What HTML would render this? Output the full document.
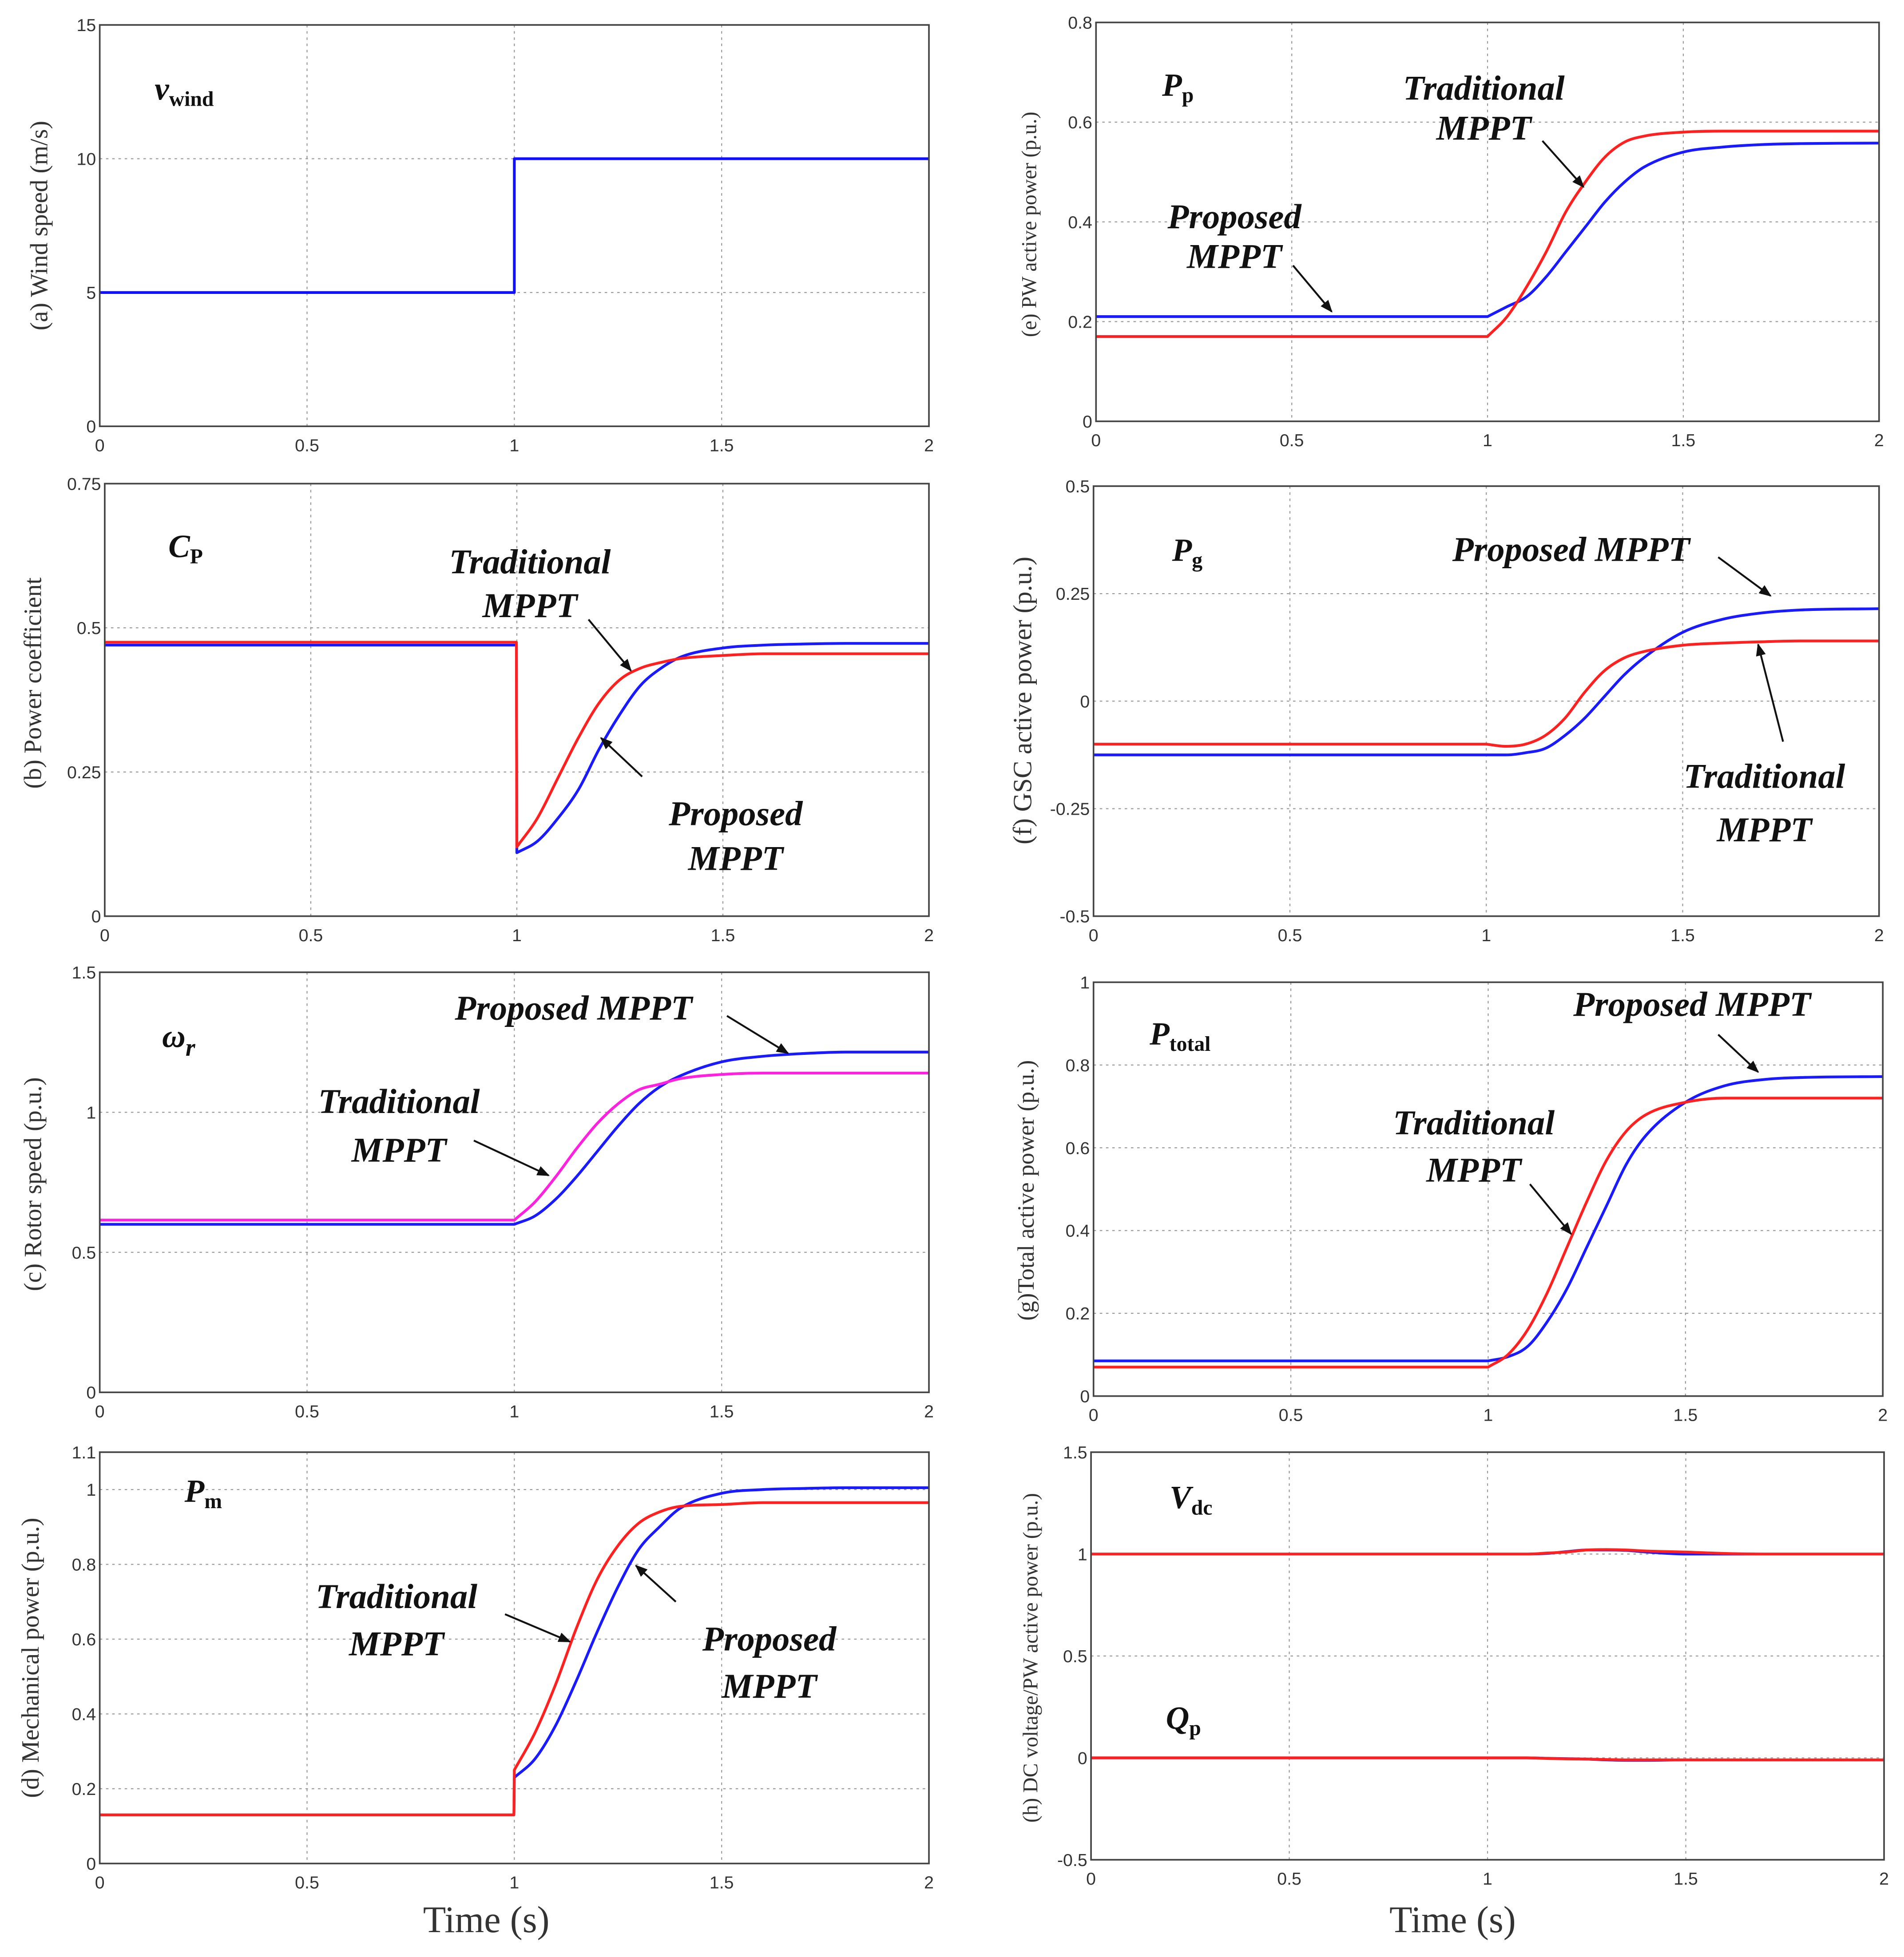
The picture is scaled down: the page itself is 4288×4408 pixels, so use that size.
<!DOCTYPE html>
<html><head><meta charset="utf-8">
<style>
html,body{margin:0;padding:0;background:#fff;}
svg{display:block;}
.tick{font-family:"Liberation Sans",sans-serif;font-size:14px;fill:#333;}
.ylab{font-family:"Liberation Serif",serif;fill:#333;}
.ann{font-family:"Liberation Serif",serif;font-weight:bold;font-style:italic;font-size:28px;fill:#111;}
.sym{font-family:"Liberation Serif",serif;font-weight:bold;font-style:italic;font-size:26px;fill:#111;}
.sub{font-family:"Liberation Serif",serif;font-weight:bold;font-style:normal;font-size:17px;}
</style></head>
<body>
<svg id="fig" width="4288" height="4408" viewBox="0 0 1527 1570" preserveAspectRatio="none" xmlns="http://www.w3.org/2000/svg">
<defs>
<marker id="ah" markerWidth="10" markerHeight="8" refX="9" refY="4" orient="auto" markerUnits="userSpaceOnUse"><path d="M0,0 L10,4 L0,8 z" fill="#111"/></marker>
</defs>
<g id="grids"></g>
<g id="series"></g>
<g id="frames"></g>
<g id="labels">
<text class="ylab" font-size="20" transform="translate(38,181) rotate(-90)" text-anchor="middle">(a) Wind speed (m/s)</text>
<text class="ylab" font-size="20" transform="translate(33,548) rotate(-90)" text-anchor="middle">(b) Power coefficient</text>
<text class="ylab" font-size="20" transform="translate(33,950) rotate(-90)" text-anchor="middle">(c) Rotor speed (p.u.)</text>
<text class="ylab" font-size="20" transform="translate(31,1330) rotate(-90)" text-anchor="middle">(d)  Mechanical power (p.u.)</text>
<text class="ylab" font-size="17" transform="translate(831,180) rotate(-90)" text-anchor="middle">(e) PW active power (p.u.)</text>
<text class="ylab" font-size="21" transform="translate(827,562) rotate(-90)" text-anchor="middle">(f) GSC active power (p.u.)</text>
<text class="ylab" font-size="19" transform="translate(829,955) rotate(-90)" text-anchor="middle">(g)Total active power (p.u.)</text>
<text class="ylab" font-size="17" transform="translate(832,1330) rotate(-90)" text-anchor="middle">(h) DC voltage/PW active power (p.u.)</text>

<text class="sym" x="124" y="80">v<tspan class="sub" dy="5">wind</tspan></text>
<text class="sym" x="135" y="447">C<tspan class="sub" dy="5">P</tspan></text>
<text class="sym" x="130" y="840">ω<tspan dy="7" font-size="20">r</tspan></text>
<text class="sym" x="148" y="1205">P<tspan class="sub" dy="5">m</tspan></text>
<text class="sym" x="932" y="77">P<tspan class="sub" dy="5">p</tspan></text>
<text class="sym" x="940" y="450">P<tspan class="sub" dy="5">g</tspan></text>
<text class="sym" x="922" y="838">P<tspan class="sub" dy="5">total</tspan></text>
<text class="sym" x="938" y="1210">V<tspan class="sub" dy="5">dc</tspan></text>
<text class="sym" x="935" y="1387">Q<tspan class="sub" dy="5">p</tspan></text>

<g>
<text class="ann" x="425" y="460" text-anchor="middle">Traditional</text>
<text class="ann" x="425" y="495" text-anchor="middle">MPPT</text>
<line x1="472" y1="497" x2="506" y2="538" stroke="#111" stroke-width="1.5" marker-end="url(#ah)"/>
<text class="ann" x="590" y="662" text-anchor="middle">Proposed</text>
<text class="ann" x="590" y="698" text-anchor="middle">MPPT</text>
<line x1="515" y1="623" x2="482" y2="592" stroke="#111" stroke-width="1.5" marker-end="url(#ah)"/>
</g>
<g>
<text class="ann" x="460" y="818" text-anchor="middle">Proposed MPPT</text>
<line x1="583" y1="815" x2="632" y2="845" stroke="#111" stroke-width="1.5" marker-end="url(#ah)"/>
<text class="ann" x="320" y="893" text-anchor="middle">Traditional</text>
<text class="ann" x="320" y="932" text-anchor="middle">MPPT</text>
<line x1="380" y1="915" x2="440" y2="943" stroke="#111" stroke-width="1.5" marker-end="url(#ah)"/>
</g>
<g>
<text class="ann" x="318" y="1290" text-anchor="middle">Traditional</text>
<text class="ann" x="318" y="1328" text-anchor="middle">MPPT</text>
<line x1="405" y1="1295" x2="457" y2="1317" stroke="#111" stroke-width="1.5" marker-end="url(#ah)"/>
<text class="ann" x="617" y="1324" text-anchor="middle">Proposed</text>
<text class="ann" x="617" y="1362" text-anchor="middle">MPPT</text>
<line x1="542" y1="1285" x2="510" y2="1256" stroke="#111" stroke-width="1.5" marker-end="url(#ah)"/>
</g>
<g>
<text class="ann" x="1190" y="80" text-anchor="middle" font-size="26">Traditional</text>
<text class="ann" x="1190" y="112" text-anchor="middle" font-size="26">MPPT</text>
<line x1="1237" y1="113" x2="1270" y2="150" stroke="#111" stroke-width="1.5" marker-end="url(#ah)"/>
<text class="ann" x="990" y="183" text-anchor="middle" font-size="26">Proposed</text>
<text class="ann" x="990" y="215" text-anchor="middle" font-size="26">MPPT</text>
<line x1="1037" y1="213" x2="1068" y2="250" stroke="#111" stroke-width="1.5" marker-end="url(#ah)"/>
</g>
<g>
<text class="ann" x="1260" y="450" text-anchor="middle" font-size="32">Proposed MPPT</text>
<line x1="1378" y1="447" x2="1420" y2="478" stroke="#111" stroke-width="1.5" marker-end="url(#ah)"/>
<text class="ann" x="1415" y="632" text-anchor="middle" font-size="32">Traditional</text>
<text class="ann" x="1415" y="675" text-anchor="middle" font-size="32">MPPT</text>
<line x1="1430" y1="595" x2="1410" y2="517" stroke="#111" stroke-width="1.5" marker-end="url(#ah)"/>
</g>
<g>
<text class="ann" x="1357" y="815" text-anchor="middle">Proposed MPPT</text>
<line x1="1378" y1="830" x2="1410" y2="860" stroke="#111" stroke-width="1.5" marker-end="url(#ah)"/>
<text class="ann" x="1182" y="910" text-anchor="middle">Traditional</text>
<text class="ann" x="1182" y="948" text-anchor="middle">MPPT</text>
<line x1="1227" y1="950" x2="1260" y2="990" stroke="#111" stroke-width="1.5" marker-end="url(#ah)"/>
</g>
<text class="ylab" font-size="30" x="390" y="1550" text-anchor="middle" fill="#111">Time (s)</text>
<text class="ylab" font-size="30" x="1165" y="1550" text-anchor="middle" fill="#111">Time (s)</text>
</g>
</svg>
<script>
// shared time samples (s)
const T = [0,0.5,0.999,1,1.05,1.1,1.15,1.2,1.25,1.3,1.35,1.4,1.5,1.6,1.7,1.8,2];
const windT = [0,1,1,2];
const windV = [5,5,10,10];
const cpTrad = [0.475,0.475,0.475,0.12,0.17,0.24,0.31,0.37,0.41,0.43,0.44,0.447,0.452,0.455,0.455,0.455,0.455];
const cpProp = [0.47,0.47,0.47,0.11,0.13,0.17,0.22,0.29,0.35,0.40,0.43,0.45,0.465,0.47,0.472,0.473,0.473];
const wrTrad = [0.615,0.615,0.615,0.615,0.68,0.77,0.87,0.96,1.03,1.08,1.10,1.12,1.135,1.14,1.14,1.14,1.14];
const wrProp = [0.60,0.60,0.60,0.60,0.63,0.69,0.77,0.86,0.95,1.03,1.09,1.13,1.18,1.20,1.21,1.215,1.215];
const pmTrad = [0.13,0.13,0.13,0.25,0.35,0.48,0.63,0.76,0.85,0.91,0.94,0.955,0.96,0.965,0.965,0.965,0.965];
const pmProp = [0.13,0.13,0.13,0.23,0.28,0.37,0.49,0.62,0.74,0.84,0.90,0.95,0.99,1.0,1.003,1.005,1.005];
const ppTrad = [0.17,0.17,0.17,0.17,0.21,0.27,0.34,0.42,0.48,0.53,0.56,0.572,0.58,0.582,0.582,0.582,0.582];
const ppProp = [0.21,0.21,0.21,0.21,0.23,0.25,0.29,0.34,0.39,0.44,0.48,0.51,0.54,0.55,0.555,0.557,0.558];
const pgTrad = [-0.10,-0.10,-0.10,-0.10,-0.105,-0.10,-0.08,-0.04,0.02,0.07,0.10,0.115,0.13,0.135,0.138,0.14,0.14];
const pgProp = [-0.125,-0.125,-0.125,-0.125,-0.125,-0.12,-0.11,-0.08,-0.04,0.01,0.06,0.10,0.16,0.19,0.205,0.212,0.215];
const ptTrad = [0.07,0.07,0.07,0.07,0.10,0.16,0.25,0.36,0.47,0.57,0.64,0.68,0.71,0.72,0.72,0.72,0.72];
const ptProp = [0.085,0.085,0.085,0.085,0.095,0.12,0.18,0.26,0.36,0.46,0.56,0.63,0.71,0.75,0.765,0.77,0.772];
const vdcTrad = [1,1,1,1,1,1,1.005,1.01,1.02,1.022,1.02,1.015,1.01,1.003,1,1,1];
const vdcProp = [1,1,1,1,1,1,1.003,1.012,1.02,1.02,1.018,1.01,1.0,1.0,1,1,1];
const qpTrad = [0,0,0,0,0,0,-0.003,-0.005,-0.006,-0.008,-0.01,-0.01,-0.01,-0.01,-0.01,-0.01,-0.01];
const qpProp = [0,0,0,0,0,0,-0.002,-0.004,-0.006,-0.01,-0.012,-0.012,-0.01,-0.01,-0.01,-0.01,-0.01];
const xTicks = [0,0.5,1,1.5,2];
const xTickLabels = ["0","0.5","1","1.5","2"];

const NS="http://www.w3.org/2000/svg";
const gGrid=document.getElementById('grids'), gSer=document.getElementById('series'), gFr=document.getElementById('frames');
function mk(tag,attrs,parent){const e=document.createElementNS(NS,tag);for(const k in attrs)e.setAttribute(k,attrs[k]);parent.appendChild(e);return e;}

// monotone cubic path through screen points, breaking on near-vertical jumps
function smoothPath(P){
  let d='';
  let segs=[[P[0]]];
  for(let i=1;i<P.length;i++){
    if(P[i][0]-P[i-1][0]<1.5){segs.push([P[i]]);}
    else segs[segs.length-1].push(P[i]);
  }
  let first=true;
  segs.forEach(S=>{
    d+=(first?'M':'L')+S[0][0].toFixed(2)+','+S[0][1].toFixed(2);
    first=false;
    const n=S.length;
    if(n<2)return;
    const dx=[],m=[],t=[];
    for(let i=0;i<n-1;i++){dx[i]=S[i+1][0]-S[i][0];m[i]=(S[i+1][1]-S[i][1])/dx[i];}
    t[0]=m[0];t[n-1]=m[n-2];
    for(let i=1;i<n-1;i++){t[i]=(m[i-1]*m[i]<=0)?0:(m[i-1]+m[i])/2;}
    for(let i=0;i<n-1;i++){
      if(m[i]===0){t[i]=0;t[i+1]=0;continue;}
      const a=t[i]/m[i],b=t[i+1]/m[i],s=a*a+b*b;
      if(s>9){const k=3/Math.sqrt(s);t[i]=k*a*m[i];t[i+1]=k*b*m[i];}
    }
    for(let i=0;i<n-1;i++){
      const h=dx[i]/3;
      d+='C'+(S[i][0]+h).toFixed(2)+','+(S[i][1]+t[i]*h).toFixed(2)+' '+(S[i+1][0]-h).toFixed(2)+','+(S[i+1][1]-t[i+1]*h).toFixed(2)+' '+S[i+1][0].toFixed(2)+','+S[i+1][1].toFixed(2);
    }
  });
  return d;
}

const panels=[
 {id:'a',x0:80,x1:745,y0:20,y1:342,ymin:0,ymax:15,yt:[0,5,10,15],yl:["0","5","10","15"],fs:16,s:[[windT,windV,'#1010ff']]},
 {id:'b',x0:84,x1:745,y0:388,y1:735,ymin:0,ymax:0.75,yt:[0,0.25,0.5,0.75],yl:["0","0.25","0.5","0.75"],fs:14,s:[[T,cpProp,'#1a1aff'],[T,cpTrad,'#ff2020']]},
 {id:'c',x0:80,x1:745,y0:780,y1:1117,ymin:0,ymax:1.5,yt:[0,0.5,1,1.5],yl:["0","0.5","1","1.5"],fs:16,s:[[T,wrProp,'#1a1aff'],[T,wrTrad,'#ff20e0']]},
 {id:'d',x0:80,x1:745,y0:1165,y1:1495,ymin:0,ymax:1.1,yt:[0,0.2,0.4,0.6,0.8,1,1.1],yl:["0","0.2","0.4","0.6","0.8","1","1.1"],fs:15,s:[[T,pmProp,'#1a1aff'],[T,pmTrad,'#ff2020']]},
 {id:'e',x0:879,x1:1507,y0:18,y1:338,ymin:0,ymax:0.8,yt:[0,0.2,0.4,0.6,0.8],yl:["0","0.2","0.4","0.6","0.8"],fs:13,s:[[T,ppProp,'#1a1aff'],[T,ppTrad,'#ff2020']]},
 {id:'f',x0:877,x1:1507,y0:390,y1:735,ymin:-0.5,ymax:0.5,yt:[-0.5,-0.25,0,0.25,0.5],yl:["-0.5","-0.25","0","0.25","0.5"],fs:16,s:[[T,pgProp,'#1a1aff'],[T,pgTrad,'#ff2020']]},
 {id:'g',x0:877,x1:1510,y0:788,y1:1120,ymin:0,ymax:1,yt:[0,0.2,0.4,0.6,0.8,1],yl:["0","0.2","0.4","0.6","0.8","1"],fs:15,s:[[T,ptProp,'#1a1aff'],[T,ptTrad,'#ff2020']]},
 {id:'h',x0:875,x1:1511,y0:1165,y1:1492,ymin:-0.5,ymax:1.5,yt:[-0.5,0,0.5,1,1.5],yl:["-0.5","0","0.5","1","1.5"],fs:15,s:[[T,vdcProp,'#1a1aff'],[T,vdcTrad,'#ff2020'],[T,qpProp,'#1a1aff'],[T,qpTrad,'#ff2020']]}
];

panels.forEach(p=>{
  const sx=v=>p.x0+(v-0)/(2-0)*(p.x1-p.x0);
  const sy=v=>p.y1-(v-p.ymin)/(p.ymax-p.ymin)*(p.y1-p.y0);
  xTicks.forEach((v,i)=>{
    if(i>0&&i<xTicks.length-1){
      const l=mk('line',{x1:sx(v),x2:sx(v),y1:p.y0,y2:p.y1,stroke:'#999','stroke-width':0.8,'stroke-dasharray':'2,3'},gGrid);
      
      
    }
    const t=mk('text',{x:sx(v),y:p.y1+20,'text-anchor':'middle',class:'tick','font-size':p.fs},gFr);
    t.textContent=xTickLabels[i];
    
    
  });
  p.yt.forEach((v,i)=>{
    if(v>p.ymin&&v<p.ymax){
      const l=mk('line',{x1:p.x0,x2:p.x1,y1:sy(v),y2:sy(v),stroke:'#999','stroke-width':0.8,'stroke-dasharray':'2,3'},gGrid);
      
      
    }
    const t=mk('text',{x:p.x0-3,y:sy(v)+5,'text-anchor':'end',class:'tick','font-size':p.fs},gFr);
    t.textContent=p.yl[i];
    
    
  });
  p.s.forEach((s,k)=>{
    const [tx,vy,col]=s;
    const P=tx.map((t,i)=>[sx(t),sy(vy[i])]);
    const pa=mk('path',{d:smoothPath(P),fill:'none',stroke:col,'stroke-width':2.2,'stroke-linejoin':'round'},gSer);
    
    
  });
  const r=mk('rect',{x:p.x0,y:p.y0,width:p.x1-p.x0,height:p.y1-p.y0,fill:'none',stroke:'#444','stroke-width':1.3},gFr);
  
  
});
</script>
</body></html>
